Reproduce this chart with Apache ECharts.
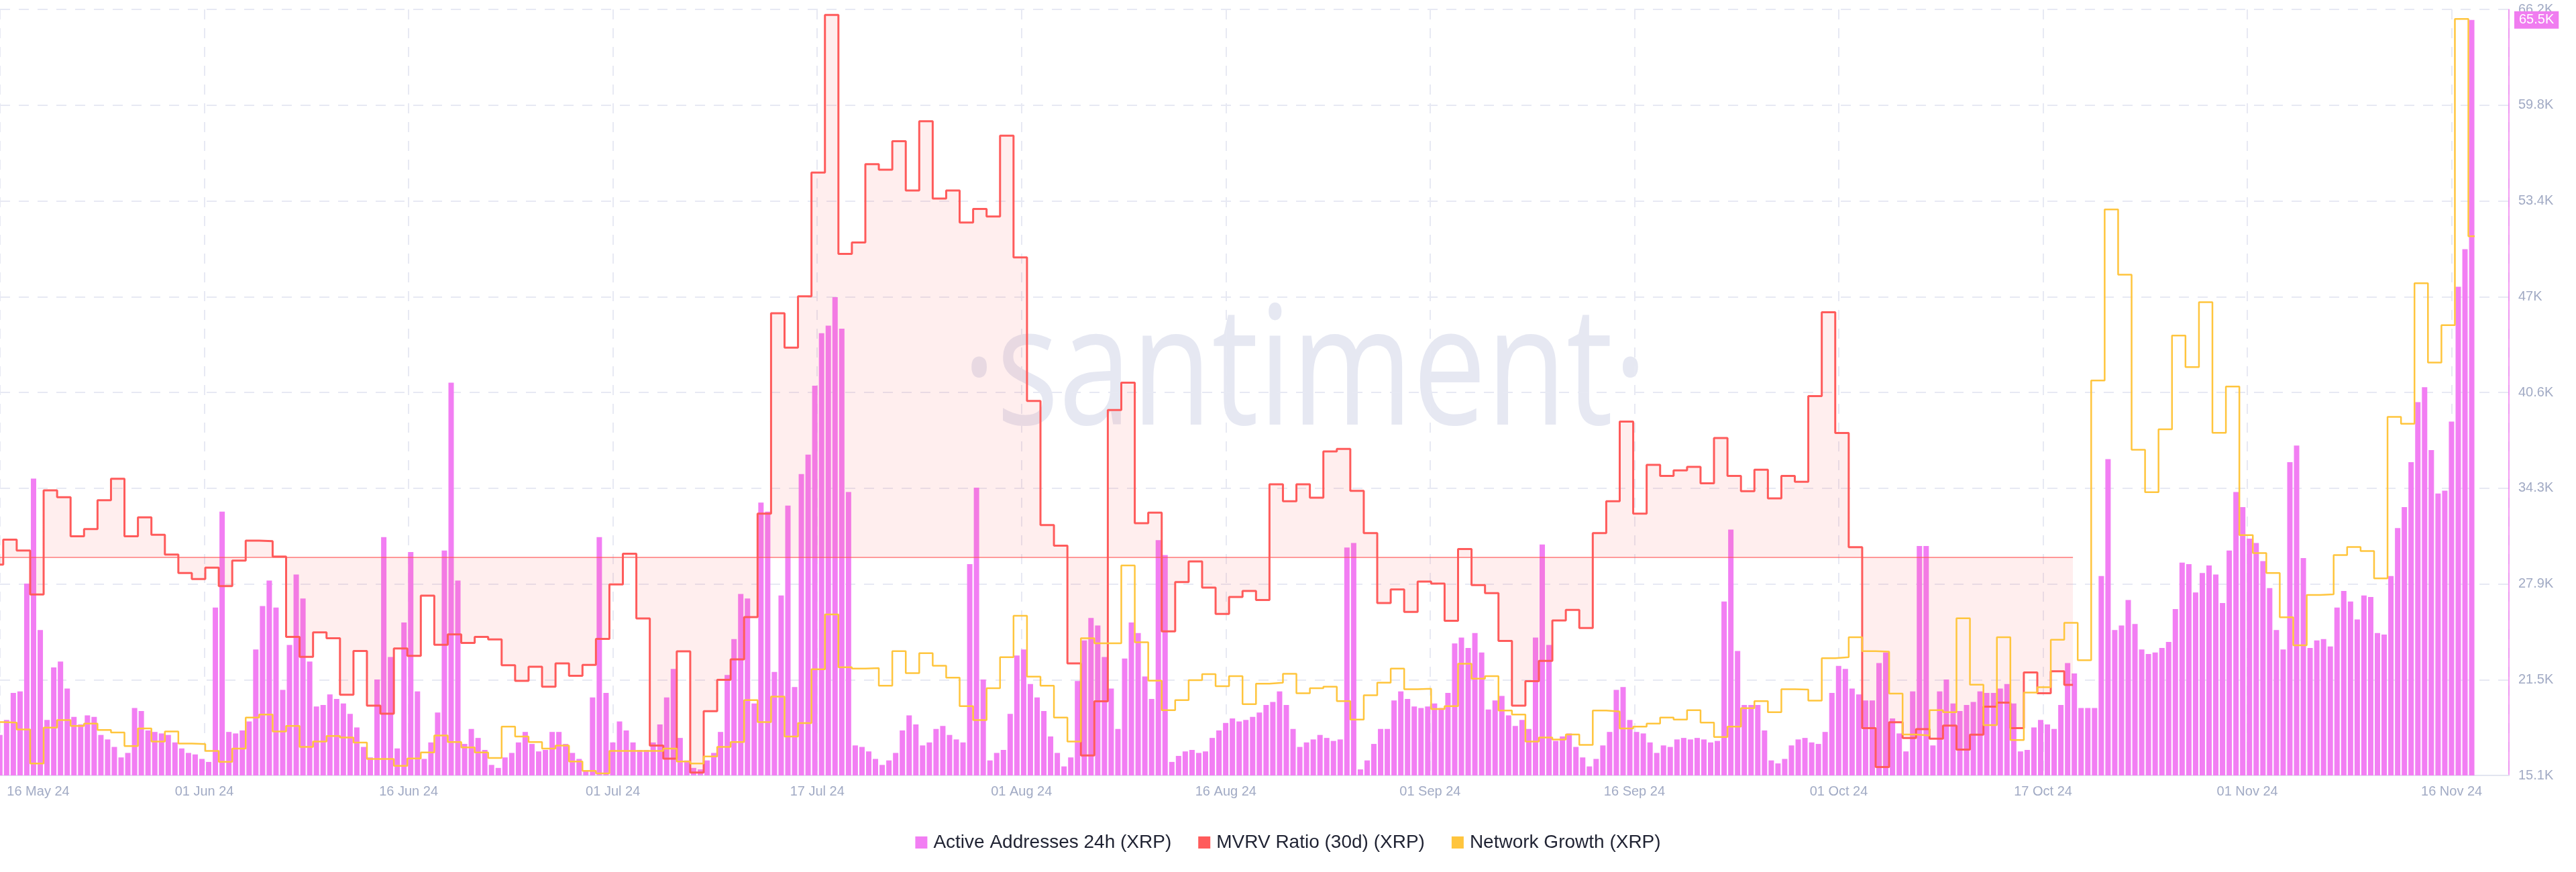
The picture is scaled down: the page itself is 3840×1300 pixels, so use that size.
<!DOCTYPE html>
<html>
<head>
<meta charset="utf-8">
<script src="https://cdn.jsdelivr.net/npm/echarts@6/dist/echarts.min.js"></script>
<style>
html,body{margin:0;padding:0;background:#ffffff;}
#chart{width:3840px;height:1300px;}
</style>
</head>
<body>
<div id="chart"></div>
<script>
// ---------------- DATA ----------------
const xTickLabels = ['16 May 24','01 Jun 24','16 Jun 24','01 Jul 24','17 Jul 24','01 Aug 24','16 Aug 24',
  '01 Sep 24','16 Sep 24','01 Oct 24','17 Oct 24','01 Nov 24','16 Nov 24'];
const yTickLabels = ['15.1K','21.5K','27.9K','34.3K','40.6K','47K','53.4K','59.8K','66.2K'];

// Active Addresses 24h (XRP), 12-hour buckets starting 2024-05-16 12:00 UTC
const activeAddresses = [
  17800,
  18800, 20600, 20700, 27900, 34900, 24800, 18800, 22300, 22700, 20900,
  19000, 18500, 19100, 19000, 17800, 17500, 17000, 16300, 16600, 19600,
  19400, 18100, 18000, 17900, 17800, 17300, 16900, 16600, 16500, 16200,
  16000, 26300, 32700, 18000, 17900, 18100, 18700, 23500, 26400, 28100,
  26300, 20800, 23800, 28500, 26900, 22700, 19700, 19800, 20500, 20200,
  19900, 19200, 18300, 17000, 16300, 21500, 31000, 23000, 16900, 25300,
  30000, 20700, 16200, 17300, 19300, 30100, 41300, 28100, 17200, 18200,
  17600, 16800, 15800, 15600, 16300, 16600, 17300, 18000, 17200, 16700,
  16800, 18000, 18000, 17200, 16600, 16200, 15400, 20300, 31000, 20600,
  17300, 18700, 18100, 17300, 16800, 16800, 17300, 18500, 20300, 22200,
  17600, 16100, 15600, 15500, 16100, 16600, 18000, 21800, 24200, 27200,
  26900, 19900, 33300, 32700, 22000, 27100, 33100, 21000, 35200, 36500,
  41100, 44600, 45100, 47000, 44900, 34000, 17100, 17000, 16700, 16200,
  15800, 16100, 16600, 18100, 19100, 18500, 17100, 17300, 18200, 18400,
  17800, 17500, 17300, 29200, 34300, 21500, 16100, 16600, 16800, 19200,
  23100, 23500, 21200, 20300, 19400, 17700, 16600, 15700, 16300, 21400,
  24100, 25600, 25100, 23000, 20900, 18200, 22900, 25300, 24600, 21700,
  20200, 30800, 29800, 16000, 16400, 16700, 16800, 16600, 16700, 17600,
  18100, 18600, 18900, 18700, 18800, 19000, 19300, 19800, 20000, 20700,
  19800, 18200, 17000, 17300, 17500, 17800, 17600, 17400, 17500, 30300,
  30600, 15500, 16100, 17200, 18200, 18200, 20100, 20700, 20200, 19700,
  19600, 19700, 19900, 19600, 20600, 23900, 24300, 23600, 24600, 23300,
  19500, 20100, 20400, 19100, 18400, 18800, 18200, 24300, 30500, 23800,
  17400, 17700, 17900, 17000, 16300, 15700, 16200, 17100, 18000, 20800,
  21000, 18800, 18000, 17900, 17300, 16600, 17100, 17000, 17500, 17600,
  17500, 17600, 17500, 17300, 17400, 26700, 31500, 23400, 19800, 19800,
  19800, 18100, 16100, 15900, 16200, 17100, 17500, 17600, 17300, 17200,
  18000, 20600, 22400, 22200, 20900, 20500, 20100, 20100, 22600, 23300,
  18900, 17900, 16700, 20700, 30400, 30400, 17100, 20700, 21500, 19900,
  19400, 19800, 20000, 20700, 20600, 20600, 20900, 21200, 19900, 16700,
  16800, 18300, 18800, 18500, 18200, 19800, 22600, 21900, 19600, 19600,
  19600, 28400, 36200, 24800, 25100, 26800, 25200, 23500, 23200, 23300,
  23600, 24000, 26200, 29300, 29200, 27300, 28600, 29100, 28500, 26600,
  30100, 34000, 33000, 30900, 30600, 29400, 27600, 24800, 23500, 36000,
  37100, 29600, 23600, 24100, 24200, 23700, 26300, 27400, 26700, 25500,
  27100, 27000, 24600, 24500, 28400, 31600, 33000, 36000, 40000, 41000,
  36800, 33900, 34100, 38700, 47700, 50200, 65500
];

// MVRV Ratio (30d) (XRP), daily from 2024-05-16, in % (0 = baseline)
const mvrvRatio = [
  -0.39, 0.91, 0.34, -1.95, 3.49, 3.13, 1.09, 1.46, 2.97, 4.09,
  1.09, 2.08, 1.17, 0.13, -0.83, -1.15, -0.55, -1.51, -0.18, 0.86,
  0.83, 0.03, -4.17, -5.21, -3.93, -4.24, -7.19, -4.90, -7.76, -8.18,
  -4.77, -5.16, -2.01, -4.58, -4.04, -4.48, -4.17, -4.30, -5.65, -6.46,
  -5.73, -6.77, -5.55, -6.20, -5.63, -4.27, -1.43, 0.18, -3.20, -9.84,
  -10.52, -4.92, -11.25, -8.05, -6.41, -5.34, -3.13, 2.27, 12.73, 10.94,
  13.62, 20.08, 28.31, 15.83, 16.43, 20.52, 20.23, 21.72, 19.14, 22.76,
  18.72, 19.14, 17.47, 18.18, 17.79, 22.01, 15.65, 8.15, 1.67, 0.60,
  -5.55, -10.36, -7.53, 7.68, 9.11, 1.77, 2.32, -3.88, -1.30, -0.23,
  -1.59, -2.97, -2.08, -1.77, -2.24, 3.80, 2.92, 3.80, 3.10, 5.52,
  5.65, 3.46, 1.25, -2.40, -1.69, -2.86, -1.28, -1.38, -3.33, 0.42,
  -1.46, -1.88, -4.38, -7.76, -6.48, -5.42, -3.31, -2.76, -3.70, 1.25,
  2.92, 7.08, 2.27, 4.82, 4.24, 4.53, 4.71, 3.85, 6.22, 4.24,
  3.44, 4.56, 3.07, 4.24, 3.93, 8.41, 12.79, 6.48, 0.52, -8.93,
  -10.96, -8.62, -9.45, -8.98, -9.48, -8.80, -10.05, -9.27, -7.81, -7.60,
  -8.93, -6.02, -7.11, -5.96, -6.67
];

// Network Growth (XRP), daily from 2024-05-16
const networkGrowth = [
  1557, 1552, 1479, 1125, 1500, 1578, 1516, 1542, 1474, 1448,
  1307, 1490, 1354, 1458, 1333, 1328, 1255, 1141, 1281, 1604,
  1635, 1458, 1516, 1297, 1354, 1411, 1396, 1344, 1172, 1172,
  1099, 1177, 1240, 1417, 1349, 1292, 1240, 1182, 1510, 1406,
  1349, 1281, 1312, 1146, 1047, 1021, 1255, 1255, 1255, 1255,
  1281, 1146, 1125, 1198, 1297, 1349, 1786, 1557, 1823, 1406,
  1547, 2109, 2682, 2130, 2115, 2120, 1937, 2297, 2068, 2276,
  2146, 2021, 1724, 1578, 1911, 2234, 2667, 2031, 1937, 1604,
  1354, 2432, 2380, 2380, 3193, 2391, 1990, 1682, 1786, 1995,
  2057, 1932, 2036, 1745, 1958, 1969, 2062, 1859, 1911, 1927,
  1776, 1583, 1838, 1969, 2115, 1901, 1906, 1693, 1724, 2167,
  2010, 2036, 1677, 1635, 1354, 1396, 1375, 1427, 1318, 1677,
  1667, 1490, 1510, 1542, 1604, 1583, 1682, 1552, 1401, 1510,
  1703, 1776, 1661, 1901, 1896, 1781, 2224, 2234, 2443, 2297,
  2292, 1854, 1427, 1417, 1682, 1661, 2641, 1948, 1526, 2443,
  1370, 1865, 1922, 2417, 2594, 2203, 5125, 6911, 6229, 4401,
  3958, 4614, 5593, 5265, 5942, 4578, 5062, 3510, 3323, 3114,
  2651, 2359, 2885, 2891, 3302, 3385, 3344, 3057, 4745, 4672,
  6140, 5312, 5703, 8901, 6630
];

// time bookkeeping (timestamps of the data)
const H = 3600000;
const AA_START = Date.UTC(2024, 4, 16, 12);      // first 12h bucket
const DAILY_START = Date.UTC(2024, 4, 16);       // first daily value
const MVRV_END = Date.UTC(2024, 9, 17, 15, 30);  // last MVRV timestamp
const NG_END = Date.UTC(2024, 10, 16, 11, 20);   // last network growth timestamp
const VIEW_START = Date.UTC(2024, 4, 16, 18, 15);
const VIEW_HOURS = 4470;
const TICK_HOURS = 364;

// ---------------- BUILD ----------------
const toH = t => (t - VIEW_START) / H;
const aaData = activeAddresses.map((v, i) => [toH(AA_START + i * 12 * H + 6 * H), v]);
function stepData(vals, endT) {
  const d = vals.map((v, i) => [toH(DAILY_START + i * 24 * H), v]);
  d.push([toH(endT), vals[vals.length - 1]]);
  return d;
}
const mvrvData = stepData(mvrvRatio, MVRV_END);
const ngData = stepData(networkGrowth, NG_END);
const lastAA = activeAddresses[activeAddresses.length - 1];
const lastAAx = aaData[aaData.length - 1][0];

const FONT = '"Liberation Sans", Arial, sans-serif';
const LABEL_COLOR = '#a1aac4';
const GRID_LINE = { color: '#e7e9f3', width: 2, type: [15, 13] };
const PINK = '#f27ef3', RED = '#ff5b5b', YELLOW = '#ffc53d';

const chart = echarts.init(document.getElementById('chart'), null, { renderer: 'canvas' });
chart.setOption({
  animation: false,
  backgroundColor: '#ffffff',
  textStyle: { fontFamily: FONT },
  grid: { left: 0, right: 100, top: 14, bottom: 144, containLabel: false },
  graphic: [{
    type: 'text', x: 1945, y: 563, z: -10, silent: true, scaleX: 0.79,
    style: {
      text: '\u00B7santiment\u00B7', font: '400 247px "Open Sans"', fill: '#e6e8f2',
      align: 'center', verticalAlign: 'middle', textAlign: 'center', textVerticalAlign: 'middle'
    }
  }],
  legend: {
    top: 1237, left: 'center', icon: 'rect', itemWidth: 18, itemHeight: 18, itemGap: 40,
    textStyle: { fontSize: 28, color: '#1f2232', fontFamily: FONT, padding: [0, 0, 0, 4] },
    data: ['Active Addresses 24h (XRP)', 'MVRV Ratio (30d) (XRP)', 'Network Growth (XRP)']
  },
  xAxis: {
    type: 'value', min: 0, max: VIEW_HOURS, interval: TICK_HOURS,
    axisLine: { show: true, onZero: false, lineStyle: { color: '#e2e5f0', width: 2 } },
    axisTick: { show: false },
    splitLine: { show: true, lineStyle: GRID_LINE },
    axisLabel: {
      margin: 14, fontSize: 20, color: LABEL_COLOR, fontFamily: FONT,
      formatter: function (v) {
        const k = Math.round(v / TICK_HOURS);
        if (Math.abs(v - k * TICK_HOURS) > 0.5 || k >= xTickLabels.length) return '';
        if (k === 0) return '{first|' + xTickLabels[k] + '}';
        return xTickLabels[k];
      },
      rich: {
        first: { padding: [0, 0, 0, 114], fontSize: 20, color: LABEL_COLOR, fontFamily: FONT }
      }
    }
  },
  yAxis: [
    { // visible scale (tick positions) for Active Addresses
      type: 'value', position: 'right', min: 0, max: 8, interval: 1,
      axisLine: { show: true, onZero: false, lineStyle: { color: '#f07cf0', width: 1.5 } },
      axisTick: { show: false },
      splitLine: { show: true, lineStyle: GRID_LINE },
      axisLabel: {
        margin: 14, fontSize: 20, color: LABEL_COLOR, fontFamily: FONT,
        formatter: v => yTickLabels[Math.round(v)]
      }
    },
    { type: 'value', min: 15100, max: 66200, show: false },
    { type: 'value', min: -11.4, max: 28.6, show: false },
    { type: 'value', min: 1000, max: 9000, show: false }
  ],
  series: [
    {
      name: 'Active Addresses 24h (XRP)', type: 'bar', yAxisIndex: 1, data: aaData,
      barWidth: 8, itemStyle: { color: PINK }, z: 2,
      markLine: {
        silent: true, symbol: 'none', animation: false,
        lineStyle: { color: 'rgba(0,0,0,0)', width: 1, type: 'solid' },
        data: [[{ coord: [lastAAx, lastAA] }, { coord: [VIEW_HOURS, lastAA] }]],
        label: {
          show: true, position: 'end', distance: 8,
          formatter: () => (lastAA / 1000).toFixed(1) + 'K',
          backgroundColor: '#f07cf0', color: '#ffffff', fontSize: 20, fontFamily: FONT,
          padding: [3, 7, 3, 7]
        }
      }
    },
    {
      name: 'MVRV Ratio (30d) (XRP)', type: 'line', yAxisIndex: 2, step: 'end', data: mvrvData,
      showSymbol: false, z: 3,
      lineStyle: { color: RED, width: 3 }, itemStyle: { color: RED },
      areaStyle: { color: 'rgba(255,91,91,0.15)', origin: 0 },
      markLine: {
        silent: true, symbol: 'none', label: { show: false },
        lineStyle: { color: 'rgba(255,91,91,0.8)', width: 1.5, type: 'solid' },
        data: [[{ coord: [0, 0] }, { coord: [toH(MVRV_END), 0] }]]
      }
    },
    {
      name: 'Network Growth (XRP)', type: 'line', yAxisIndex: 3, step: 'end', data: ngData,
      showSymbol: false, z: 4,
      lineStyle: { color: YELLOW, width: 2.5 }, itemStyle: { color: YELLOW }
    }
  ]
});
</script>
</body>
</html>
